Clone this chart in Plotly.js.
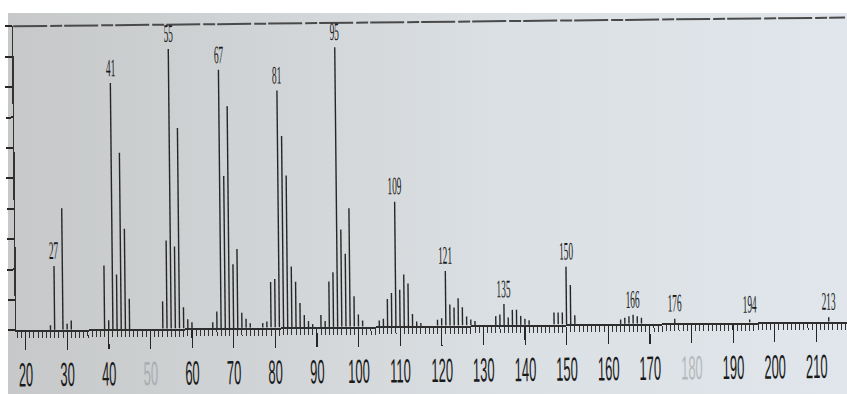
<!DOCTYPE html>
<html>
<head>
<meta charset="utf-8">
<script src="https://cdn.plot.ly/plotly-3.0.1.min.js"></script>
<style>
  html, body { margin: 0; padding: 0; background: #ffffff; width: 847px; height: 394px; overflow: hidden; }
  #paper {
    position: absolute; left: 8px; top: 13px; width: 839px; height: 381px;
    background: linear-gradient(90deg, #c6c8c9 0%, #d1d4d6 30%, #dbe0e4 60%, #e0e6eb 100%);
  }
  #chart {
    position: absolute; left: 0; top: 0; width: 847px; height: 394px;
    transform: rotate(-0.6deg); transform-origin: 50% 50%;
  }
</style>
</head>
<body>
<div id="paper"></div>
<div id="chart"></div>
<script>
// Mass spectrum: m/z values and relative intensities (%)
const mz = [
  26, 27, 29, 30, 31, 39, 40, 41, 42, 43, 44, 45,
  53, 54, 55, 56, 57, 58, 59, 60, 65, 66, 67, 68, 69, 70, 71, 72, 73, 74,
  77, 78, 79, 80, 81, 82, 83, 84, 85, 86, 87, 88, 89,
  91, 92, 93, 94, 95, 96, 97, 98, 99, 100, 101,
  105, 106, 107, 108, 109, 110, 111, 112, 113, 114, 115,
  119, 120, 121, 122, 123, 124, 125, 126, 127, 128,
  133, 134, 135, 136, 137, 138, 139, 140, 141,
  147, 148, 149, 150, 151, 152,
  163, 164, 165, 166, 167, 168, 176, 194, 213
];
const intensity = [
  1.5, 21, 40, 2, 3, 21, 3, 81, 18, 58, 33, 10,
  9, 29, 92, 27, 66, 7, 3, 2, 2, 5.5, 85, 50, 73, 21, 26, 5, 3, 1.5,
  1.5, 2, 15, 16, 78, 63, 50, 20, 15, 8, 4, 2, 1,
  4, 2, 15, 18, 92, 32, 24, 39, 10, 4, 2,
  2, 2.5, 9, 11, 41, 12, 17, 14, 4, 1.5, 1,
  2, 2.5, 18, 7, 6, 9, 6, 3, 2, 1.5,
  3, 3.5, 7, 2.5, 5, 5, 3, 2, 1.5,
  4, 4, 4, 19, 13, 3,
  1.5, 2, 2.5, 3, 2.5, 2, 1.5, 1, 1.5
];
// Peaks carrying an m/z label
const labelledMz = [27, 41, 55, 67, 81, 95, 109, 121, 135, 150, 166, 176, 194, 213];

// x-axis tick labels (50 and 180 are printed faintly)
const tickVals = [20, 30, 40, 50, 60, 70, 80, 90, 100, 110, 120, 130, 140, 150, 160, 170, 180, 190, 200, 210];
const tickText = ['20', '30', '40', '<span style="color:#a9adb0">50</span>', '60', '70', '80', '90', '100', '110',
  '120', '130', '140', '150', '160', '170', '<span style="color:#b4b9bd">180</span>', '190', '200', '210'];

const ink = '#262626';

// one vertical stem per peak, from the baseline up to its intensity
const stemX = [], stemY = [];
mz.forEach((m, i) => { stemX.push(m, m, null); stemY.push(0, intensity[i], null); });

const stems = {
  type: 'scatter',
  mode: 'lines',
  x: stemX,
  y: stemY,
  line: { color: ink, width: 1.4 },
  hoverinfo: 'skip'
};

const annotations = labelledMz.map(m => ({
  x: m,
  y: intensity[mz.indexOf(m)],
  xref: 'x', yref: 'y',
  text: String(m),
  showarrow: false,
  xanchor: 'center', yanchor: 'bottom',
  yshift: 1,
  font: { family: 'Liberation Serif, serif', size: 18, color: '#1a1a1a' }
}));

const layout = {
  width: 847, height: 394,
  margin: { l: 15, r: 0, t: 22, b: 68 },
  paper_bgcolor: 'rgba(0,0,0,0)',
  plot_bgcolor: 'rgba(0,0,0,0)',
  showlegend: false,
  xaxis: {
    range: [17.8, 217.7],
    automargin: false,
    showgrid: false, zeroline: false,
    showline: true, linecolor: '#2e2e2e', linewidth: 2,
    ticks: 'outside', ticklen: 18, tickwidth: 1.2, tickcolor: ink,
    tickmode: 'array', tickvals: tickVals, ticktext: tickText,
    tickangle: 0,
    ticklabelstandoff: 4,
    tickfont: { family: 'Liberation Sans, Arial, sans-serif', size: 24, color: '#1a1a1a' },
    minor: { dtick: 1, ticks: 'outside', ticklen: 6, tickwidth: 1, tickcolor: '#333' }
  },
  yaxis: {
    range: [0, 100],
    automargin: false,
    showgrid: false, zeroline: false,
    showline: true, linecolor: '#333', linewidth: 1.5,
    ticks: 'outside', ticklen: 7, tickwidth: 2, tickcolor: ink,
    dtick: 10, showticklabels: false
  },
  shapes: [{
    type: 'line', xref: 'paper', yref: 'paper', x0: 0, x1: 1, y0: 1, y1: 1,
    line: { color: '#4a4a4a', width: 2, dash: '34px,3px,12px,2px' }
  }],
  annotations: annotations
};

// narrow, tall lettering like the printed chart
function condense(el, sx, sy, anchorBottom) {
  const b = el.getBBox();
  const cx = b.x + b.width / 2;
  const cy = anchorBottom ? b.y + b.height * 0.8 : b.y + b.height / 2;
  const prev = el.getAttribute('transform') || '';
  el.setAttribute('transform',
    prev + ` translate(${cx},${cy}) scale(${sx},${sy}) translate(${-cx},${-cy})`);
}

Plotly.newPlot('chart', [stems], layout, { displayModeBar: false, staticPlot: true }).then(gd => {
  gd.querySelectorAll('.xtick text').forEach(t => condense(t, 0.54, 1.4, false));
  gd.querySelectorAll('.annotation-text').forEach(t => condense(t, 0.52, 1.4, true));
});
</script>
</body>
</html>
